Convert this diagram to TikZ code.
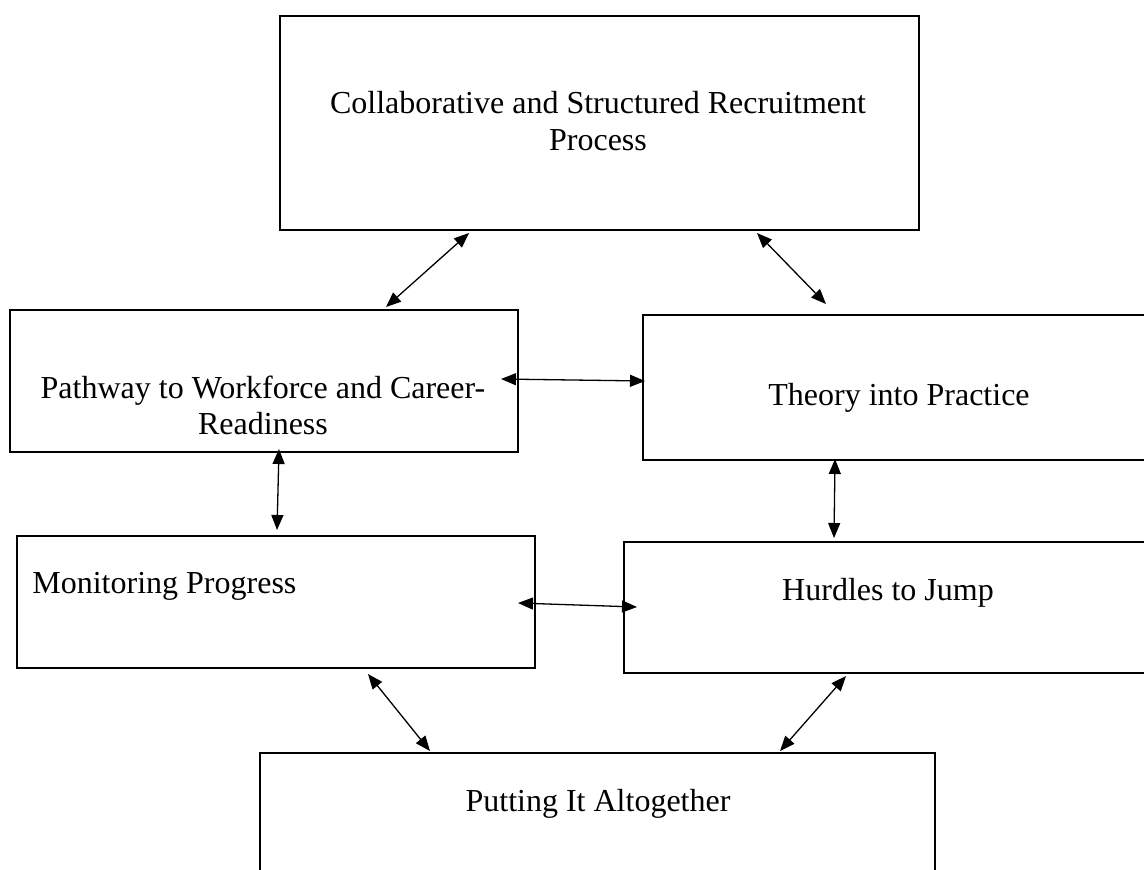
\documentclass[tikz,border=0pt]{standalone}
\usepackage{fontspec}
\setmainfont{Liberation Serif}
\usetikzlibrary{arrows.meta,calc}
\begin{document}
\begin{tikzpicture}[x=0.5pt,y=-0.5pt,
  box/.style={draw=black, line width=1pt, rectangle, inner sep=0pt},
  lbl/.style={font=\fontsize{16}{18}\selectfont, inner sep=0pt, anchor=base},
  link/.style={line width=0.65pt, {Triangle[length=7.5pt,width=6pt]}-{Triangle[length=7.5pt,width=6pt]}}]
\useasboundingbox (0,0) rectangle (1144,869);
\fill[white] (0,0) rectangle (1144,869);
\clip (0,0) rectangle (1144,869);

% boxes
\node[box, minimum width=319.5pt, minimum height=107pt] (top) at (599.5,123) {};
\node[box, minimum width=254pt, minimum height=71pt] (path) at (264,381) {};
\node[box, minimum width=254.5pt, minimum height=72.5pt] (theory) at (897.5,387.5) {};
\node[box, minimum width=259pt, minimum height=66pt] (monitor) at (276,602) {};
\node[box, minimum width=264pt, minimum height=65.5pt] (hurdles) at (888,607.5) {};
\node[box, minimum width=337.5pt, minimum height=100pt] (putting) at (597.5,853) {};

% labels
\node[lbl] (t1) at (598,113) {Collaborative and Structured Recruitment};
\node[lbl] (t2) at (598,150) {Process};
\node[lbl] (p1) at (263,398) {Pathway to Workforce and Career-};
\node[lbl] (p2) at (263,434) {Readiness};
\node[lbl] (th) at (899,405) {Theory into Practice};
\node[lbl, anchor=base west] (mo) at (32,593) {Monitoring Progress};
\node[lbl] (hu) at (888,600) {Hurdles to Jump};
\node[lbl] (pu) at (598,811) {Putting It Altogether};

% connectors
\draw[link] ($(top.south west)+(190,2)$) -- ($(path.north west)+(377,-2)$);
\draw[link] ($(top.south west)+(478,2)$) -- ($(theory.north west)+(184,-10)$);
\draw[link] ($(path.east)+(-18,-2)$) -- ($(theory.west)+(3,-6.5)$);
\draw[link] ($(path.south)+(15,-4)$) -- ($(monitor.north)+(1,-5)$);
\draw[link] ($(theory.south)+(-62.5,-2)$) -- ($(hurdles.north)+(-54,-3)$);
\draw[link] ($(monitor.east)+(-18,1)$) -- ($(hurdles.west)+(14,-0.5)$);
\draw[link] ($(monitor.south)+(92,5)$) -- ($(putting.north west)+(171,-1)$);
\draw[link] ($(hurdles.south west)+(223,2)$) -- ($(putting.north west)+(521,-1)$);
\end{tikzpicture}
\end{document}
